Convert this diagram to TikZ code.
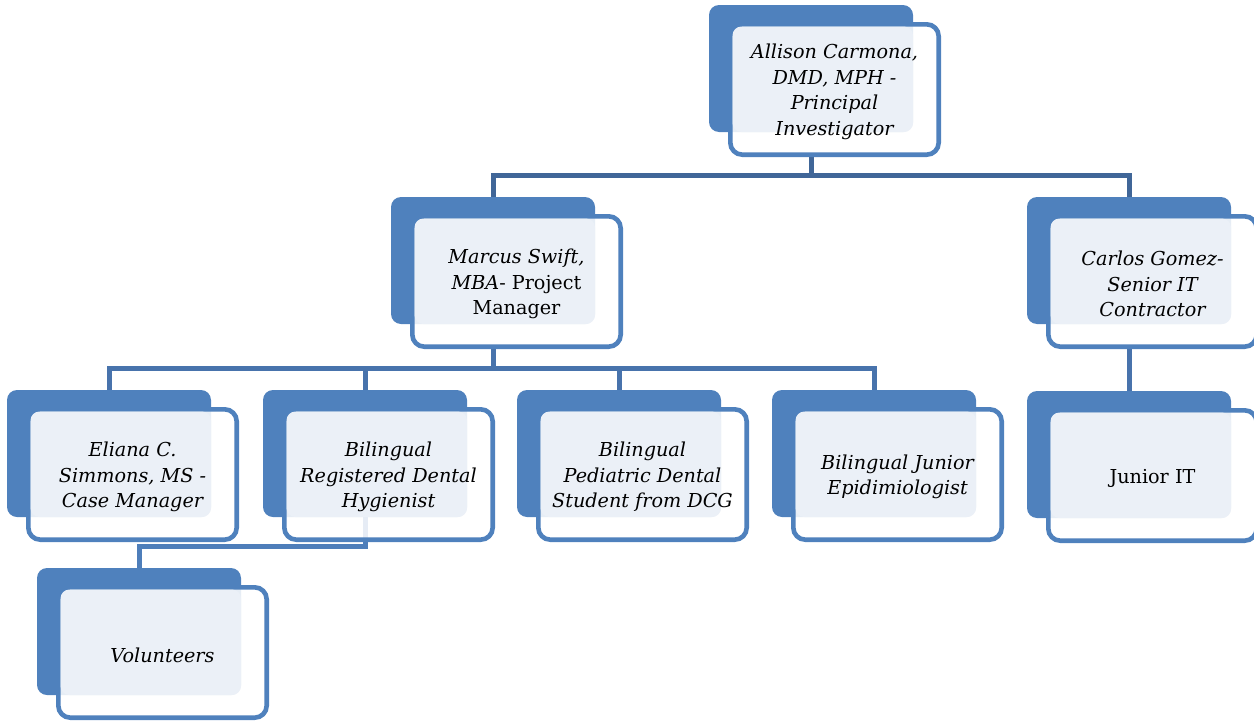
\documentclass[tikz,border=0pt]{standalone}
\usepackage{fontspec}
\setmainfont{DejaVu Serif}
\usetikzlibrary{backgrounds}
\definecolor{boxblue}{RGB}{79,129,189}
\definecolor{lightfill}{RGB}{235,240,247}
\definecolor{linkA}{RGB}{64,102,152}
\definecolor{linkB}{RGB}{72,115,172}
\definecolor{linkC}{RGB}{78,126,186}
\tikzset{
  backbox/.style={rectangle, fill=boxblue, draw=none, minimum width=204pt, minimum height=127pt, rounded corners=10pt, inner sep=0pt, outer sep=0pt},
  frontbox/.style={rectangle, draw=boxblue, line width=4.6pt, fill=white, fill opacity=0.86, minimum width=208.4pt, minimum height=130.4pt, rounded corners=12pt, inner sep=0pt, outer sep=0pt},
  orgtext/.style={align=center, font=\fontsize{19.2}{25.5}\selectfont\itshape, inner sep=0pt, text=black},
  link/.style={line width=5pt, draw=#1},
}
\newcommand\orgunit[4]{%
  \node[backbox] (#1) at (#2+102,#3+63.5) {};
  \node[frontbox] (#1-f) at (#2+125.5,#3+84.5) {};
  \fill[lightfill, rounded corners=9pt] (#2+23.5,#3+21.5) rectangle (#2+204,#3+127);
  \node[orgtext] (#1-t) at ([yshift=-2.5pt]#1-f.center) {#4};
}
\begin{document}
\begin{tikzpicture}[x=1pt,y=-1pt]
\useasboundingbox (0,0) rectangle (1254,723);
\orgunit{a}{709}{5}{Allison Carmona,\\DMD, MPH -\\Principal\\Investigator}
\orgunit{m}{391}{197}{Marcus Swift,\\MBA\textup{- Project}\\\textup{Manager}}
\orgunit{c}{1027}{197}{Carlos Gomez-\\Senior IT\\Contractor}
\orgunit{e}{7}{390}{Eliana C.\\Simmons, MS -\\Case Manager}
\orgunit{h}{263}{390}{Bilingual\\Registered Dental\\Hygienist}
\orgunit{p}{517}{390}{Bilingual\\Pediatric Dental\\Student from DCG}
\orgunit{ep}{772}{390}{Bilingual Junior\\Epidimiologist}
\orgunit{j}{1027}{391}{\textup{Junior IT}}
\orgunit{v}{37}{568}{Volunteers}
\begin{scope}[on background layer]
  \draw[link=linkA] (a.south |- a-f.south) -- ++(0,21) coordinate (j1) -| (m.north);
  \draw[link=linkA] (j1) -| (c.north);
  \draw[link=linkB] (m.south |- m-f.south) -- ++(0,22) coordinate (j2) -| (e.north);
  \draw[link=linkB] (j2) -| (h.north);
  \draw[link=linkB] (j2) -| (p.north);
  \draw[link=linkB] (j2) -| (ep.north);
  \draw[link=linkB] (c.south |- c-f.south) -- (j.north);
  \draw[link=linkC] (h.south) -- ++(0,29) coordinate (j3) -| (v.north);
\end{scope}
\end{tikzpicture}
\end{document}
